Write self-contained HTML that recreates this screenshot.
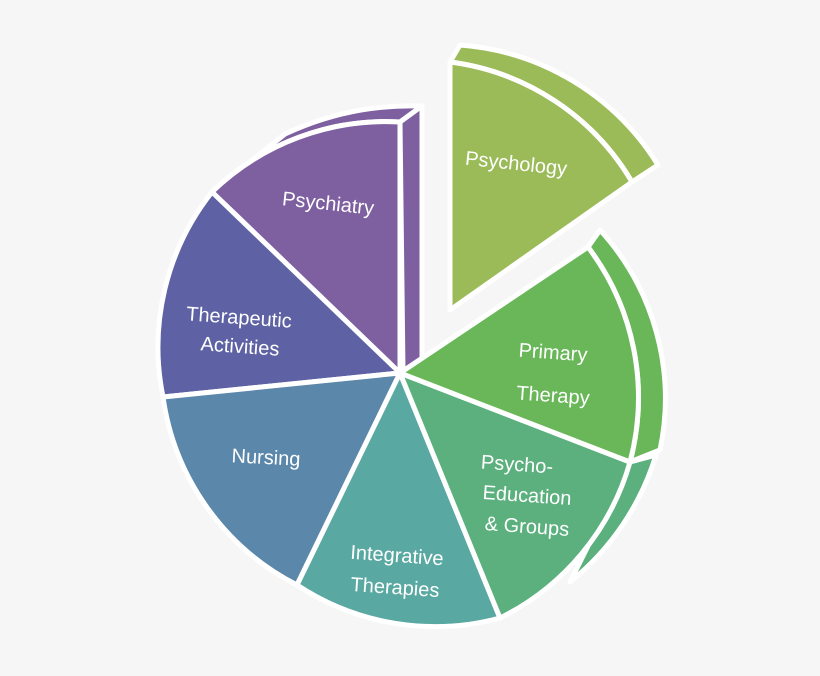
<!DOCTYPE html>
<html><head><style>
html,body{margin:0;padding:0;background:#f6f6f6;}
svg{display:block}
text{font-family:"Liberation Sans",sans-serif;font-size:20px;fill:#fff;text-anchor:middle}
</style></head><body>
<svg width="820" height="676" viewBox="0 0 820 676">
<rect width="820" height="676" fill="#f6f6f6"/>
<g stroke="#fff" stroke-width="5" stroke-linejoin="round">
<!-- depth bands -->
<path d="M450,62 L460,45 A255,255 0 0 1 658,165 L632,182 A248,248 0 0 0 450,62 Z" fill="#9bbb59"/>
<path d="M588,247 L600,230 A250,250 0 0 1 660,450 L630,462 A250,250 0 0 0 588,247 Z" fill="#6ab75a"/>
<path d="M630,462 L656,455 A260,260 0 0 1 570,582 Z" fill="#5bb07e"/>
<path d="M212,192 A250,250 0 0 1 400,122 L422,106 A300,300 0 0 0 285,134 Z" fill="#7e60a0"/>
<path d="M400,122 L422,106 L422,362 L403,372 Z" fill="#7e60a0"/>
<!-- faces -->
<path d="M400,373 L400,122 A250,250 0 0 0 212,192 Z" fill="#7e60a0"/>
<path d="M400,373 L212,192 A250,250 0 0 0 163,397 Z" fill="#5e62a4"/>
<path d="M400,373 L163,397 A250,250 0 0 0 297,585 Z" fill="#5b87aa"/>
<path d="M400,373 L297,585 A250,250 0 0 0 500,618 Z" fill="#5aa8a2"/>
<path d="M400,373 L500,618 A250,250 0 0 0 630,462 Z" fill="#5bb07e"/>
<path d="M400,373 L630,462 A250,250 0 0 0 588,247 Z" fill="#6ab75a"/>
<path d="M450,310 L632,182 A248,248 0 0 0 450,62 Z" fill="#9bbb59"/>
</g>
<text x="516" y="170" transform="rotate(6 516 165)">Psychology</text>
<text x="328" y="210" transform="rotate(6 328 205)">Psychiatry</text>
<text x="239" y="324" transform="rotate(4 239 318)">Therapeutic</text>
<text x="240" y="353" transform="rotate(4 240 347)">Activities</text>
<text x="266" y="464" transform="rotate(3 266 458)">Nursing</text>
<text x="397" y="562" transform="rotate(4 397 556)">Integrative</text>
<text x="395" y="594" transform="rotate(4 395 588)">Therapies</text>
<text x="517" y="471" transform="rotate(4 517 465)">Psycho-</text>
<text x="527" y="502" transform="rotate(4 527 496)">Education</text>
<text x="527" y="533" transform="rotate(4 527 527)">&amp; Groups</text>
<text x="553" y="359" transform="rotate(4 553 353)">Primary</text>
<text x="553" y="402" transform="rotate(4 553 396)">Therapy</text>
</svg>
</body></html>
